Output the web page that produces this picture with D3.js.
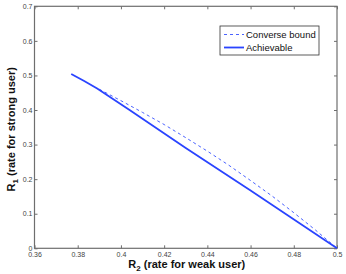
<!DOCTYPE html>
<html>
<head>
<meta charset="utf-8">
<script src="https://cdn.jsdelivr.net/npm/d3@7"></script>
<style>
  body { margin: 0; background: #fff; }
  svg { display: block; font-family: "Liberation Sans", Arial, sans-serif; }
</style>
</head>
<body>
<div id="chart"></div>
<script>
const xTicks = [0.36, 0.38, 0.4, 0.42, 0.44, 0.46, 0.48, 0.5];
const yTicks = [0, 0.1, 0.2, 0.3, 0.4, 0.5, 0.6, 0.7];

// converse bound (dashed)
const converseR2 = [0.39, 0.40, 0.41, 0.42, 0.43, 0.44, 0.45, 0.46, 0.47, 0.48, 0.49, 0.5];
const converseR1 = [0.46, 0.427, 0.393, 0.358, 0.320, 0.281, 0.240, 0.196, 0.151, 0.103, 0.053, 0];

// achievable (solid)
const achR2 = [0.377, 0.383, 0.389, 0.404, 0.43, 0.46, 0.5];
const achR1 = [0.504, 0.484, 0.462, 0.400, 0.290, 0.167, 0];

const width = 346, height = 274;
const margin = { top: 6, right: 9, bottom: 26, left: 34 };

const svg = d3.select('#chart').append('svg')
  .attr('width', width)
  .attr('height', height);

const x = d3.scaleLinear()
  .domain([0.36, 0.5])
  .range([margin.left + 0.5, width - margin.right]);

const y = d3.scaleLinear()
  .domain([0, 0.7])
  .range([height - margin.bottom + 0.3, margin.top + 0.3]);

const axisColor = '#6e6e6e';

// box
svg.append('rect')
  .attr('x', x(0.36)).attr('y', y(0.7))
  .attr('width', x(0.5) - x(0.36))
  .attr('height', y(0) - y(0.7))
  .attr('fill', 'none')
  .attr('stroke', axisColor)
  .attr('stroke-width', 1.2);

function xAxis(g) {
  g.attr('transform', `translate(0,${y(0)})`)
    .call(d3.axisBottom(x).tickValues(xTicks).tickSize(-3).tickPadding(4)
      .tickFormat(d => d3.format('')(+d.toFixed(2))))
    .call(g => g.select('.domain').remove())
    .attr('font-size', '7px')
    .attr('font-family', '"Liberation Sans", Arial, sans-serif')
    .attr('color', axisColor);
  g.selectAll('text').attr('fill', '#444');
}

function yAxis(g) {
  g.attr('transform', `translate(${x(0.36)},0)`)
    .call(d3.axisLeft(y).tickValues(yTicks).tickSize(-3).tickPadding(2)
      .tickFormat(d => d3.format('')(+d.toFixed(1))))
    .call(g => g.select('.domain').remove())
    .attr('font-size', '7px')
    .attr('font-family', '"Liberation Sans", Arial, sans-serif')
    .attr('color', axisColor);
  g.selectAll('text').attr('fill', '#444');
}

// top / right ticks (MATLAB box)
svg.append('g').attr('transform', `translate(0,${y(0.7)})`)
  .call(d3.axisTop(x).tickValues(xTicks).tickSize(-3).tickFormat(''))
  .call(g => g.select('.domain').remove())
  .attr('color', axisColor);
svg.append('g').attr('transform', `translate(${x(0.5)},0)`)
  .call(d3.axisRight(y).tickValues(yTicks).tickSize(-3).tickFormat(''))
  .call(g => g.select('.domain').remove())
  .attr('color', axisColor);

svg.append('g').call(xAxis);
svg.append('g').call(yAxis);

const blue = '#2a44ff';

const line = d3.line().x(d => x(d[0])).y(d => y(d[1]));

svg.append('path')
  .datum(converseR2.map((v, i) => [v, converseR1[i]]))
  .attr('fill', 'none')
  .attr('stroke', '#4a62ff')
  .attr('stroke-width', 1)
  .attr('stroke-dasharray', '3,3')
  .attr('d', line);

svg.append('path')
  .datum(achR2.map((v, i) => [v, achR1[i]]))
  .attr('fill', 'none')
  .attr('stroke', blue)
  .attr('stroke-width', 1.8)
  .attr('d', line);

// legend
const lg = svg.append('g').attr('transform', 'translate(220,26)');
lg.append('rect')
  .attr('x', 0).attr('y', 0).attr('width', 99).attr('height', 29)
  .attr('fill', '#fff').attr('stroke', '#333').attr('stroke-width', 0.8);
const legendItems = [
  { label: 'Converse bound', dash: '3,3', w: 1, c: '#4a62ff' },
  { label: 'Achievable', dash: null, w: 1.8, c: blue }
];
legendItems.forEach((d, i) => {
  const yy = 8.5 + i * 13;
  lg.append('line')
    .attr('x1', 4).attr('x2', 24).attr('y1', yy).attr('y2', yy)
    .attr('stroke', d.c).attr('stroke-width', d.w)
    .attr('stroke-dasharray', d.dash);
  lg.append('text')
    .attr('x', 26).attr('y', yy + 3.5)
    .attr('font-size', '9.5px')
    .attr('fill', '#111')
    .text(d.label);
});

// axis labels
const xl = svg.append('text')
  .attr('x', (x(0.36) + x(0.5)) / 2 + 1)
  .attr('y', 268)
  .attr('text-anchor', 'middle')
  .attr('font-size', '11px')
  .attr('font-weight', 'bold')
  .attr('fill', '#111');
xl.append('tspan').text('R');
xl.append('tspan').attr('font-size', '8px').attr('dy', 3).text('2');
xl.append('tspan').attr('dy', -3).text(' (rate for weak user)');

const yl = svg.append('text')
  .attr('transform', `translate(15,${(y(0) + y(0.7)) / 2 + 2}) rotate(-90)`)
  .attr('text-anchor', 'middle')
  .attr('font-size', '11px')
  .attr('font-weight', 'bold')
  .attr('fill', '#111');
yl.append('tspan').text('R');
yl.append('tspan').attr('font-size', '8px').attr('dy', 3).text('1');
yl.append('tspan').attr('dy', -3).text(' (rate for strong user)');
</script>
</body>
</html>
